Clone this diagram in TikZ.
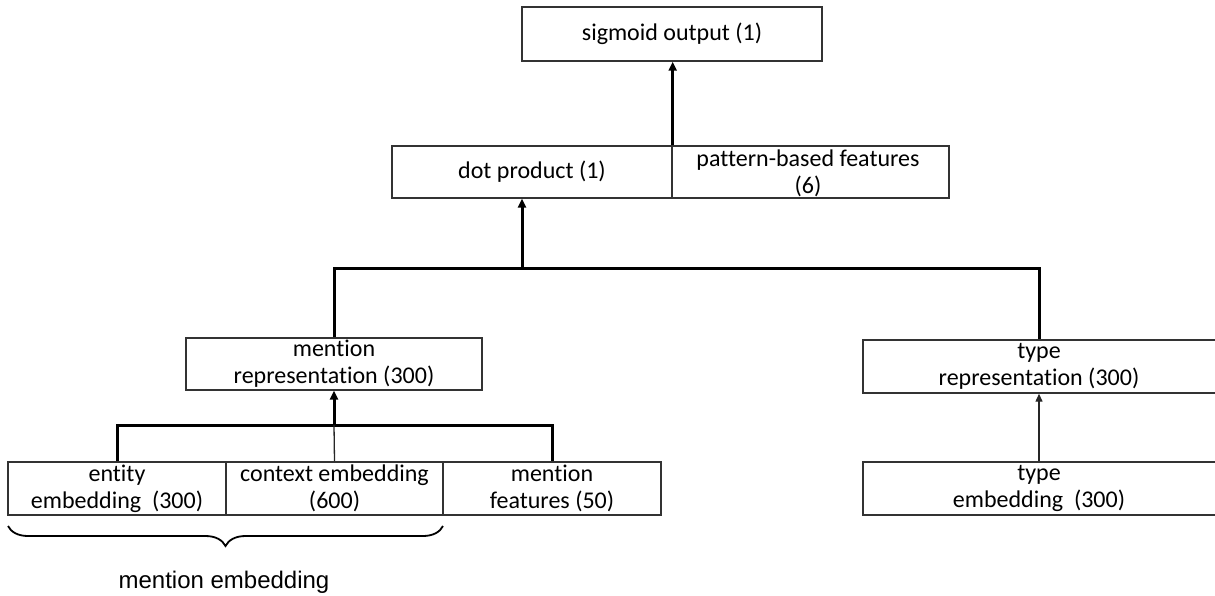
\documentclass[tikz,border=0pt]{standalone}
\usepackage{fontspec}
\setmainfont[Ligatures=NoCommon]{Carlito}
\newfontfamily\arialf{Liberation Sans}
\usetikzlibrary{arrows.meta,decorations.pathreplacing}
\tikzset{
  box/.style={draw=black!80, line width=1.4pt, rectangle, inner sep=0pt, align=center,
    font=\fontsize{24}{27}\selectfont},
  txt/.style={inner sep=0pt, align=center, font=\fontsize{24}{27}\selectfont},
  thickconn/.style={line width=3pt, black},
  thinconn/.style={line width=1.3pt, black!85},
  bigtip/.style={-{Triangle[length=9pt,width=8pt]}},
  smalltip/.style={-{Triangle[length=8pt,width=7pt]}},
}
\begin{document}
\begin{tikzpicture}[x=1pt,y=-1pt]
\clip (0,0) rectangle (1215,595);
\useasboundingbox (0,0) rectangle (1215,595);
% top
\node[box, minimum width=300pt, minimum height=54pt] (sig) at (672,34) {sigmoid output (1)};
\node[box, minimum width=280pt, minimum height=52pt] (dp) at (532,172) {dot product (1)};
\node[box, minimum width=277pt, minimum height=52pt] (pbf) at (810.5,172) {};
\node[txt] (pbft) at (808,173) {pattern-based features\\(6)};
% middle
\node[box, minimum width=296pt, minimum height=52pt] (mrep) at (334,364) {mention\\representation (300)};
\node[box, minimum width=364pt, minimum height=53pt] (trep) at (1045,366.5) {};
\node[txt] (trept) at (1039,366.5) {type\\representation (300)};
% bottom row
\node[box, minimum width=218pt, minimum height=53pt] (ent) at (117,488.5) {entity\\embedding\ \ (300)};
\node[box, minimum width=217pt, minimum height=53pt] (ctx) at (334.5,488.5) {context embedding\\(600)};
\node[box, minimum width=218pt, minimum height=53pt] (mf) at (552,488.5) {mention\\features (50)};
\node[box, minimum width=364pt, minimum height=53pt] (temb) at (1045,488.5) {};
\node[txt] (tembt) at (1039,488.5) {type\\embedding\ \ (300)};
% connectors
\draw[thickconn, bigtip] (dp.north east) -- (sig.south -| dp.north east);
\coordinate (j1) at (522,268);
\draw[thickconn] (mrep.north) |- (j1) -| (trept |- trep.north);
\draw[thickconn, bigtip] (j1) -- (j1 |- dp.south);
\coordinate (j2) at (334,425);
\draw[thickconn] (ent.north) |- (j2) -| (mf.north);
\draw[thickconn, bigtip] (j2) -- (mrep.south);
\draw[thinconn] (ctx.north) -- (j2);
\draw[thinconn, smalltip] (tembt |- temb.north) -- (trept |- trep.south);
% brace
\coordinate (b1) at (8,526);
\coordinate (b2) at (443,526);
\draw[line width=1.8pt, decorate, decoration={brace, mirror, amplitude=20pt}] (b1) -- (b2);
\node[inner sep=0pt, font=\arialf\fontsize{24}{27}\selectfont] (me) at (224,582) {mention embedding};
\end{tikzpicture}
\end{document}
